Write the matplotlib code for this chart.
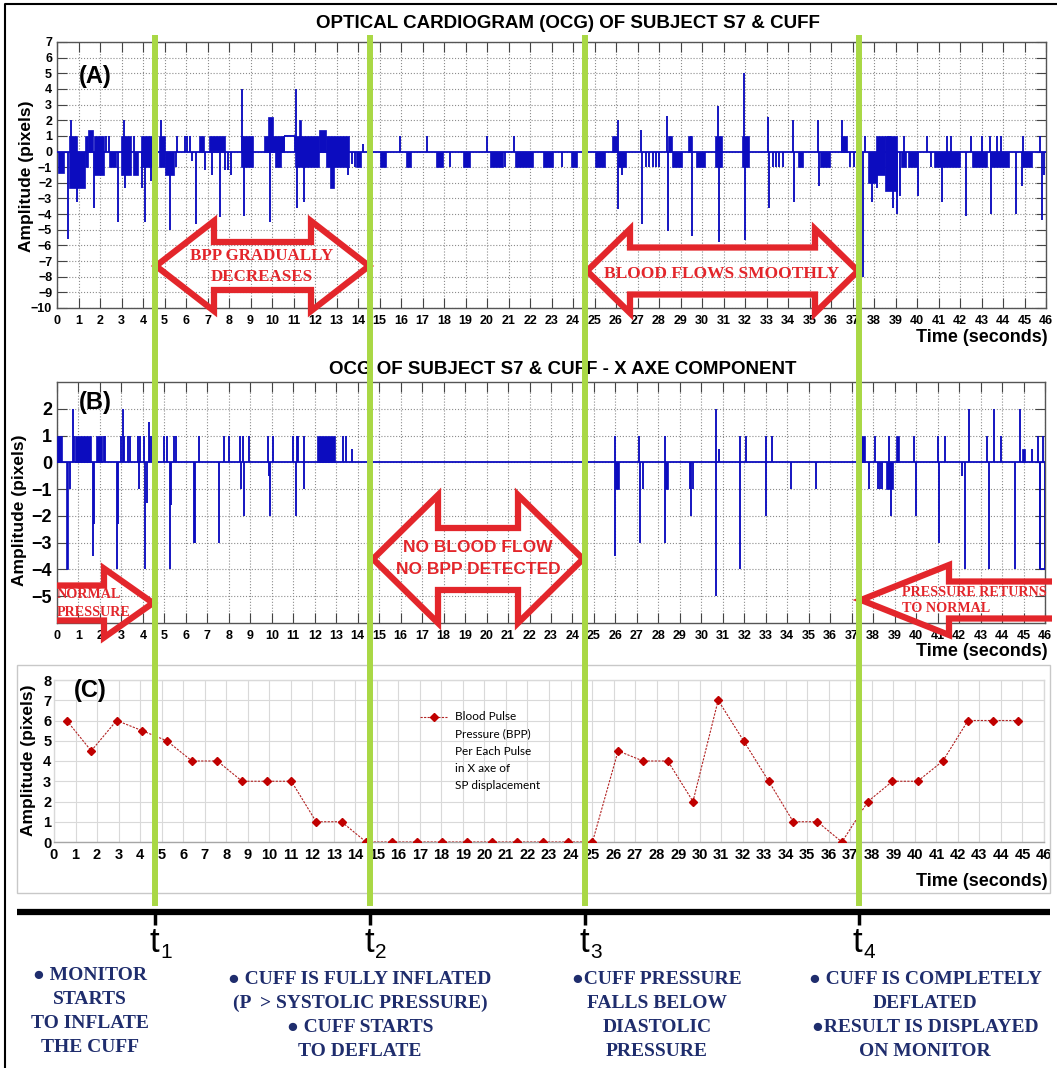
import matplotlib
matplotlib.use('Agg')
import matplotlib.pyplot as plt
from matplotlib.patches import Polygon, Rectangle

W, H = 1057, 1068
BLUE = '#0c0cbf'
RED = '#e3262b'
GREEN = '#a9d845'
NAVY = '#1f2d6d'
SANS = ['Liberation Sans', 'DejaVu Sans']
NARROW = ['Liberation Sans Narrow', 'Liberation Sans', 'DejaVu Sans']
SERIF = ['Liberation Serif', 'DejaVu Sans']

# ---------------- panel A : OCG of subject S7 & cuff ----------------
# dense parts of the trace: (t start, t end, low, high)
a_blocks = [(0.03, 0.34, -1.4, 0), (0.55, 0.95, -2.3, 1.0), (0.95, 1.30, -2.3, 0),
            (1.30, 1.42, -1.0, 1.0), (1.42, 1.66, 0, 1.4), (1.74, 2.20, -1.5, 1.0),
            (2.44, 2.75, -1.0, 0), (2.98, 3.44, -1.5, 1.0), (3.52, 3.75, -1.5, 0),
            (3.91, 4.45, -1.0, 1.0), (4.75, 5.00, -1.0, 1.0), (5.00, 5.45, -1.5, 0),
            (6.60, 6.85, 0, 1.0), (7.05, 7.80, 0, 1.0), (8.55, 9.10, -1.0, 1.0),
            (9.65, 10.55, 0, 1.0), (9.80, 10.05, 0, 2.2), (10.15, 10.40, -1.0, 0),
            (11.05, 12.20, -1.0, 1.0), (11.25, 11.35, 0, 2.0), (12.20, 12.50, 0, 1.4),
            (12.50, 13.60, -1.0, 1.0), (12.68, 12.90, -2.3, 0), (13.92, 14.16, -1.0, 0),
            (15.01, 15.32, -1, 0), (16.25, 16.48, -1, 0), (17.65, 17.96, -1, 0),
            (18.89, 19.20, -1, 0), (20.13, 20.75, -1, 0), (21.30, 22.15, -1, 0),
            (22.60, 23.08, -1, 0), (23.90, 24.20, -1, 0), (25.02, 25.49, -1, 0),
            (25.80, 26.05, 0, 1.0), (26.07, 26.45, -1.0, 0), (28.43, 28.60, 0, 1.0),
            (28.60, 29.05, -1.0, 0), (29.35, 29.55, 0, 1.0), (29.70, 30.14, -1.0, 0),
            (30.60, 30.95, -1.0, 1.0), (31.85, 32.20, -1.0, 1.0), (34.45, 34.70, -1.0, 0),
            (35.50, 35.95, -1.0, 0), (36.45, 36.75, 0, 1.0), (37.70, 38.10, -2.0, 0),
            (38.10, 38.50, -1.5, 1.0), (38.50, 39.05, -2.5, 1.0), (39.25, 39.50, -1.0, 0),
            (39.60, 40.00, -1.0, 0), (40.80, 42.00, -1.0, 0), (42.55, 43.25, -1.0, 0),
            (43.40, 44.30, -1.0, 0), (44.90, 45.35, -1.0, 0)]
# single excursions: (t, value)
a_spikes = [(0.53, -5.6), (0.65, 2.0), (0.95, -3.2), (1.71, -3.6), (2.30, 1.0), (2.44, 1.0),
            (2.82, -4.5), (3.10, 2.0), (3.15, -2.3), (3.60, 1.0), (3.95, -2.3), (4.10, -4.5),
            (4.37, -1.9), (4.55, -1.8), (4.84, 2.0), (5.26, -5.0), (5.55, -1.0), (5.60, 1.0),
            (5.95, 1.0), (6.05, 1.0), (6.20, 1.0), (6.30, -0.6), (6.47, -4.6), (6.90, -1.2),
            (7.20, -1.5), (7.56, -4.2), (7.80, -1.2), (7.95, -1.2), (8.10, -1.5), (8.61, 4.0),
            (8.72, -4.1), (9.93, -4.5), (11.13, 4.0), (11.16, -3.6), (11.47, -3.2),
            (13.53, -1.5), (13.70, -0.8), (13.85, -1.0), (14.23, 0.5),
            (15.97, 1.0), (17.23, 1.0), (18.30, -1.0), (20.02, 1.0), (20.85, -1.0), (21.26, 1.0),
            (23.47, -1.0), (26.07, 2.0), (26.07, -3.7), (26.30, -1.5), (27.16, 1.4), (27.20, -4.6),
            (27.40, -1.0), (27.55, -1.0), (27.70, -1.0), (27.85, -1.0), (28.00, -1.0),
            (28.36, 2.25), (28.40, -5.05), (29.47, 1.0), (29.55, -5.4), (30.73, 2.9), (30.80, -5.8),
            (31.96, 5.0), (31.98, -5.66), (33.06, 2.2), (33.10, -3.6), (33.30, -1.0), (33.45, -1.0),
            (33.60, -1.0), (33.75, -1.0), (34.25, 2.0), (34.30, -3.2), (35.40, 2.0), (35.42, -2.2),
            (36.50, 2.0), (36.90, -1.0), (37.05, -1.0), (37.50, -8.0), (37.60, 1.0), (37.90, -3.2),
            (38.15, -2.3), (38.65, 1.0), (38.75, 1.0), (38.90, -3.6), (39.05, -4.0), (39.20, -2.85),
            (39.40, 1.0), (40.06, -2.85), (40.45, 1.0), (40.65, -1.0), (41.15, -3.2), (41.40, 1.0),
            (41.60, 1.0), (42.30, -4.1), (42.50, 1.0), (43.00, 1.0), (43.40, 1.0), (43.42, -4.0),
            (43.70, 1.0), (43.90, 1.0), (44.60, -4.0), (44.87, -2.2), (44.95, 1.0), (45.70, 1.0),
            (45.80, -4.4), (45.90, -1.5)]
# flat stretches away from zero: (t start, t end, level)
a_flats = [(10.58, 11.05, 1.0)]

# ---------------- panel B : X axe component ----------------
b_blocks = [(0.02, 0.22, 0, 1), (0.40, 0.53, -4, 0), (0.86, 1.57, 0, 1), (1.80, 2.10, 0, 1),
            (12.10, 12.94, 0, 1), (26.00, 26.16, -1, 0), (28.30, 28.45, -1, 0),
            (37.41, 37.61, 0, 1), (38.60, 38.90, -1, 0), (39.04, 39.22, 0, 1),
            (44.93, 45.09, 0, 0.5)]
b_spikes = [(0.60, -1), (0.74, 2), (0.80, 1), (1.68, -3.5), (1.72, -2.3), (2.20, 1), (2.25, 1),
            (2.80, -4), (2.85, -2.3), (2.99, 1), (3.07, 2), (3.14, 1), (3.30, 1), (3.41, 1),
            (3.75, 1), (3.80, -1), (3.85, 1), (4.05, 1), (4.10, -4), (4.20, -1.5), (4.28, 1.5),
            (4.35, 1), (4.40, 1), (5.00, 1), (5.10, 1), (5.24, -4), (5.30, -1.6), (5.45, 1),
            (5.55, 1), (6.37, -3), (6.42, -3), (6.60, 1), (7.55, -3), (7.78, 1), (8.00, 1),
            (8.54, 1), (8.58, -1), (8.65, 1), (8.72, -2), (8.96, 1), (9.82, 1), (9.85, -0.5),
            (9.90, -2), (10.06, 1), (11.00, 1), (11.12, -2), (11.16, 1), (11.24, 1), (11.48, -1),
            (11.50, 1), (13.30, 1), (13.47, 1), (13.73, 0.5),
            (26.0, 1), (26.0, -3.5), (27.1, 1), (27.15, -3), (27.3, -1), (28.3, 1), (28.3, -3),
            (29.45, -1), (29.54, -2), (29.6, -1), (30.67, 2), (30.67, -5), (30.8, 0.5), (31.8, 1),
            (31.8, -4), (32.07, 1), (33.0, 1), (33.0, -2), (33.27, 1), (34.17, -1), (35.34, -1),
            (37.80, -1), (38.08, 1), (38.23, -1), (38.31, -1), (38.39, -1), (38.76, 1), (38.84, -2),
            (39.89, 1), (40.00, -2), (41.02, 1), (41.05, -3), (41.33, 1), (42.15, -0.5), (42.27, -4),
            (42.45, 2), (43.31, 1), (43.38, -4), (43.62, 2), (43.97, 1), (44.59, -4), (44.85, 2),
            (45.40, 0.5), (45.68, 1), (45.79, -4), (45.90, 1)]
b_flats = [(45.79, 46.0, -4.0)]

# ---------------- panel C : BPP per pulse ----------------
c_time = [0.59, 1.73, 2.91, 4.09, 5.24, 6.41, 7.59, 8.74, 9.90, 11.03, 12.18, 13.36,
          14.50, 15.71, 16.86, 18.02, 19.20, 20.35, 21.52, 22.71, 23.87, 25.02,
          26.21, 27.37, 28.52, 29.69, 30.86, 32.04, 33.21, 34.35, 35.47, 36.61,
          37.82, 38.96, 40.13, 41.30, 42.47, 43.64, 44.80]
c_bpp = [6, 4.5, 6, 5.5, 5, 4, 4, 3, 3, 3, 1, 1,
         0, 0, 0, 0, 0, 0, 0, 0, 0, 0,
         4.5, 4, 4, 2, 7, 5, 3, 1, 1, 0,
         2, 3, 3, 4, 6, 6, 6]
c_legend = ['Blood Pulse', 'Pressure (BPP)', 'Per Each Pulse', 'in X axe of', 'SP displacement']

# cuff events
t_events = [4.56, 14.56, 24.56, 37.28]
t_names = ['1', '2', '3', '4']
notes = [['\u25CF MONITOR', 'STARTS', 'TO INFLATE', 'THE CUFF'],
         ['\u25CF CUFF IS FULLY INFLATED', '(P  > SYSTOLIC PRESSURE)', '\u25CF CUFF STARTS', 'TO DEFLATE'],
         ['\u25CFCUFF PRESSURE', 'FALLS BELOW', 'DIASTOLIC', 'PRESSURE'],
         ['\u25CF CUFF IS COMPLETELY', 'DEFLATED', '\u25CFRESULT IS DISPLAYED', 'ON MONITOR']]

plt.rcParams['font.family'] = SANS
fig = plt.figure(figsize=(W / 100, H / 100), dpi=100)


def px_axes(l, t, r, b):
    return fig.add_axes([l / W, 1 - b / H, (r - l) / W, (b - t) / H])


def draw_signal(ax, spikes, blocks, flats):
    ax.axhline(0, color=BLUE, lw=1.3, zorder=3)
    for t0, t1, lo, hi in blocks:
        ax.bar(t0, hi - lo, width=t1 - t0, bottom=lo, align='edge', color=BLUE,
               edgecolor=BLUE, lw=0.5, zorder=3)
    ax.vlines([s[0] for s in spikes], 0, [s[1] for s in spikes], color=BLUE, lw=1.35, zorder=3)
    for t0, t1, lev in flats:
        ax.hlines(lev, t0, t1, color=BLUE, lw=1.35, zorder=3)
        ax.vlines([t0, t1], 0, lev, color=BLUE, lw=1.35, zorder=3)


def matlab_style(ax, ylim, yticks, ysize):
    ax.set_xlim(0, 46)
    ax.set_ylim(*ylim)
    ax.set_xticks(range(0, 47))
    ax.set_yticks(yticks)
    ax.grid(True, linestyle=':', color='#8c8c8c', linewidth=0.8)
    ax.set_axisbelow(True)
    ax.tick_params(direction='in', top=True, right=True, length=7, width=0.8,
                   color='#444444')
    ax.tick_params(axis='x', labelsize=9, pad=5)
    ax.tick_params(axis='y', labelsize=ysize, pad=3.5)
    for lab in ax.get_xticklabels() + ax.get_yticklabels():
        lab.set_fontweight('bold')
    for s in ax.spines.values():
        s.set_color('#555555')
        s.set_linewidth(1.0)


# ---- panel A
axA = px_axes(57, 42, 1046, 308)
draw_signal(axA, a_spikes, a_blocks, a_flats)
matlab_style(axA, (-10, 7), range(-10, 8), 9)

# ---- panel B
axB = px_axes(57, 382, 1045, 623)
draw_signal(axB, b_spikes, b_blocks, b_flats)
matlab_style(axB, (-6, 3), range(-5, 3), 13)

# ---- panel C
axC = px_axes(54, 680, 1044, 842)
axC.plot(c_time, c_bpp, color='#b22222', lw=0.8, linestyle=(0, (2, 1.2)),
         marker='D', markersize=4, markerfacecolor='#c00000', markeredgecolor='#c00000', zorder=3)
axC.set_xlim(0, 46)
axC.set_ylim(0, 8)
axC.set_xticks(range(0, 47))
axC.set_yticks(range(0, 9))
axC.grid(True, color='#d9d9d9', linewidth=0.8)
axC.set_axisbelow(True)
axC.tick_params(axis='x', length=0, pad=4)
axC.tick_params(axis='y', length=0, pad=2)
for lab in axC.get_xticklabels() + axC.get_yticklabels():
    lab.set_fontweight('bold')
    lab.set_fontfamily(NARROW)
    lab.set_fontsize(10.5)
for side, s in axC.spines.items():
    s.set_color('#a6a6a6' if side == 'bottom' else '#d9d9d9')
    s.set_linewidth(1.0)

# ---- overlay in pixel coordinates for annotations
ov = fig.add_axes([0, 0, 1, 1], zorder=10)
ov.set_xlim(0, W)
ov.set_ylim(H, 0)
ov.axis('off')

# outer frame and panel C chart area
ov.plot([5, 5, W], [H, 4, 4], color='black', lw=1.5)
ov.add_patch(Rectangle((17, 665), 1033, 228, fill=False, edgecolor='#c8c8c8', lw=1.0))

# titles and labels
ov.text(568, 23, 'OPTICAL CARDIOGRAM (OCG) OF SUBJECT S7 & CUFF', ha='center', va='center',
        fontsize=13.5, fontweight='bold')
ov.text(563, 369, 'OCG OF SUBJECT S7 & CUFF - X AXE COMPONENT', ha='center', va='center',
        fontsize=13.5, fontweight='bold')
for x, y, s in [(95, 77, '(A)'), (95, 402, '(B)'), (90, 690, '(C)')]:
    ov.text(x, y, s, ha='center', va='center', fontsize=17, fontweight='bold')
for x, y in [(27, 176), (20, 510), (29, 760)]:
    ov.text(x, y, 'Amplitude (pixels)', ha='center', va='center', rotation=90,
            fontsize=12.5, fontweight='bold')
for y in [338, 652, 881]:
    ov.text(1048, y, 'Time (seconds)', ha='right', va='center', fontsize=13, fontweight='bold')

# legend of panel C
ov.plot([420, 447], [717, 717], color='#b22222', lw=0.8, linestyle=(0, (2, 1.2)))
ov.plot([433.5], [717], marker='D', markersize=4, color='#c00000')
for i, s in enumerate(c_legend):
    ov.text(455, 717 + i * 17.2, s, ha='left', va='center', fontsize=8.5,
            family=['Lato', 'DejaVu Sans'])


def double_arrow(x0, x1, yc, shaft, head, hl):
    pts = [(x0, yc), (x0 + hl, yc - head), (x0 + hl, yc - shaft), (x1 - hl, yc - shaft),
           (x1 - hl, yc - head), (x1, yc), (x1 - hl, yc + head), (x1 - hl, yc + shaft),
           (x0 + hl, yc + shaft), (x0 + hl, yc + head)]
    ov.add_patch(Polygon(pts, closed=True, fill=False, edgecolor=RED, lw=4.5, joinstyle='miter'))


def single_arrow(tail, tip, yc, shaft, head, hl):
    d = 1 if tip > tail else -1
    hx = tip - d * hl
    pts = [(tail, yc - shaft), (hx, yc - shaft), (hx, yc - head), (tip, yc),
           (hx, yc + head), (hx, yc + shaft), (tail, yc + shaft)]
    ov.add_patch(Polygon(pts, closed=False, fill=False, edgecolor=RED, lw=4.5, joinstyle='miter'))


double_arrow(156, 369, 266, 24, 45, 58)
double_arrow(587, 858, 271, 23.5, 42, 43)
double_arrow(373, 583, 559, 31, 64, 65)
single_arrow(57, 153, 603, 17.5, 34.5, 49)
single_arrow(1052, 861, 600, 18.5, 35, 88)

ov.text(262, 256, 'BPP GRADUALLY', ha='center', va='center', color=RED, fontsize=12.2,
        fontweight='bold', family=SERIF)
ov.text(262, 277, 'DECREASES', ha='center', va='center', color=RED, fontsize=12.2,
        fontweight='bold', family=SERIF)
ov.text(722, 274, 'BLOOD FLOWS SMOOTHLY', ha='center', va='center', color=RED, fontsize=12.5,
        fontweight='bold', family=SERIF)
ov.text(478, 548, 'NO BLOOD FLOW', ha='center', va='center', color=RED, fontsize=12.5,
        fontweight='bold')
ov.text(478, 570, 'NO BPP DETECTED', ha='center', va='center', color=RED, fontsize=12.5,
        fontweight='bold')
ov.text(57, 595, 'NORMAL', ha='left', va='center', color=RED, fontsize=10.2,
        fontweight='bold', family=SERIF)
ov.text(57, 612, 'PRESSURE', ha='left', va='center', color=RED, fontsize=10.2,
        fontweight='bold', family=SERIF)
ov.text(902, 592, 'PRESSURE RETURNS', ha='left', va='center', color=RED, fontsize=10.2,
        fontweight='bold', family=SERIF)
ov.text(902, 609, 'TO NORMAL', ha='left', va='center', color=RED, fontsize=10.2,
        fontweight='bold', family=SERIF)

# cuff event markers across all panels and the time line below
ev_x = [axA.transData.transform((t, 0))[0] for t in t_events]
ov.vlines(ev_x, 35, 906, color=GREEN, lw=4.3, zorder=5)
ov.plot([17, 1050], [912, 912], color='black', lw=4.5, solid_capstyle='butt')
ov.vlines(ev_x, 912, 925, color='black', lw=2.5)
for x, n in zip(ev_x, t_names):
    ov.text(x - 1, 942, 't', ha='center', va='center', fontsize=25, family=NARROW)
    ov.text(x + 11, 952, n, ha='center', va='center', fontsize=15, family=NARROW)

col_x = [90, 360, 657, 925]
col_y0 = [975, 979, 980, 980]
for cx, y0, lines in zip(col_x, col_y0, notes):
    for i, s in enumerate(lines):
        ov.text(cx, y0 + i * 24, s, ha='center', va='center', color=NAVY, fontsize=14,
                fontweight='bold', family=SERIF)

fig.savefig('out.png', dpi=100)
